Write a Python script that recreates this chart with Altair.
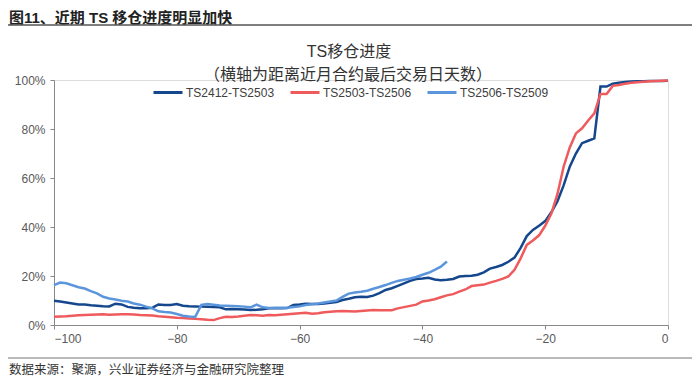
import altair as alt
import pandas as pd

series_names = ["TS2412-TS2503", "TS2503-TS2506", "TS2506-TS2509"]
colors = ["#15478c", "#ef5a5c", "#5b96dc"]

days_full = list(range(-100, 1))
days_short = list(range(-100, -35))

ts2412 = [9.9, 9.6, 9.2, 8.8, 8.4, 8.4, 8.1, 7.9, 7.7, 7.6,
          8.7, 8.4, 7.4, 7.0, 6.8, 6.8, 7.0, 8.4, 8.2, 8.2,
          8.6, 7.9, 7.7, 7.6, 7.5, 7.4, 7.3, 7.2, 6.4, 6.5,
          6.4, 6.3, 6.1, 6.2, 6.4, 6.8, 6.8, 6.8, 6.9, 8.2,
          8.4, 8.7, 8.6, 8.6, 8.8, 9.1, 9.4, 10.2, 10.7, 11.3,
          11.5, 11.4, 12.0, 13.0, 14.3, 15.0, 16.0, 17.0, 18.0, 18.8,
          19.0, 19.3, 18.6, 18.3, 18.5, 18.8, 19.8, 20.0, 20.1, 20.5,
          21.5, 23.0, 23.7, 24.5, 25.8, 27.5, 31.5, 36.3, 38.8, 40.5,
          42.4, 46.0, 50.5, 57.0, 64.6, 70.0, 74.2, 75.2, 76.2, 97.3,
          97.3, 98.5, 98.9, 99.2, 99.4, 99.5, 99.5, 99.6, 99.6, 99.6,
          99.7]

ts2503 = [3.4, 3.5, 3.6, 3.8, 4.0, 4.1, 4.2, 4.3, 4.4, 4.2,
          4.3, 4.4, 4.4, 4.3, 4.1, 4.0, 3.9, 3.6, 3.4, 3.2,
          3.0, 2.9, 2.7, 2.5, 2.3, 2.1, 2.0, 2.8, 3.4, 3.3,
          3.5, 3.8, 4.1, 4.0, 3.8, 4.1, 4.0, 4.2, 4.4, 4.6,
          4.8, 5.0, 4.6, 4.8, 5.2, 5.4, 5.6, 5.7, 5.6, 5.5,
          5.7, 5.9, 6.1, 6.0, 6.0, 6.0, 6.8, 7.3, 7.8, 8.3,
          9.6, 10.0, 10.5, 11.3, 12.1, 12.6, 13.6, 14.5, 15.9, 16.2,
          16.5, 17.3, 18.0, 18.8, 19.8, 22.5, 27.2, 32.7, 34.5, 36.6,
          40.5, 45.5, 53.5, 64.6, 72.5, 78.2, 80.3, 83.5, 86.4, 94.3,
          94.3, 97.6, 98.0, 98.5, 98.9, 99.1, 99.3, 99.5, 99.6, 99.7,
          99.8]

ts2506 = [16.3, 17.3, 17.0, 16.2, 15.4, 14.9, 13.8, 12.9, 11.5, 10.8,
          10.4, 9.9, 9.6, 8.8, 8.3, 7.5, 6.8, 5.6, 5.3, 5.1,
          4.5, 3.8, 3.5, 3.3, 8.2, 8.6, 8.3, 8.0, 7.9, 7.8,
          7.7, 7.5, 7.2, 8.3, 7.2, 6.9, 7.0, 7.0, 7.0, 7.3,
          7.6, 8.2, 8.5, 8.8, 9.2, 9.6, 10.0, 11.5, 12.8, 13.3,
          13.6, 14.0, 14.8, 15.5, 16.3, 17.2, 18.0, 18.5, 19.0, 19.6,
          20.5, 21.3, 22.5, 23.8, 25.9]

x_ticks = [-100, -80, -60, -40, -20, 0]
y_ticks = [0, 20, 40, 60, 80, 100]

header = "图11、近期 TS 移仓进度明显加快"
title_text = "TS移仓进度"
subtitle_text = "（横轴为距离近月合约最后交易日天数）"
source_text = "数据来源：聚源，兴业证券经济与金融研究院整理"

rows = []
for name, days, vals in [(series_names[0], days_full, ts2412),
                         (series_names[1], days_full, ts2503),
                         (series_names[2], days_short, ts2506)]:
    for d, v in zip(days, vals):
        rows.append({"series": name, "day": d, "value": v})
df = pd.DataFrame(rows)

FONT = "Liberation Sans, Noto Sans CJK SC"
W, H = 614, 245

lines = alt.Chart(df).mark_line(strokeWidth=2.5).encode(
    x=alt.X("day:Q", scale=alt.Scale(domain=[-100, 0], nice=False),
            axis=alt.Axis(values=x_ticks, title=None, grid=False, tickSize=4,
                          labelPadding=4, labelFontSize=12, labelColor="#595959",
                          domainColor="#888888", tickColor="#888888", labelFont=FONT)),
    y=alt.Y("value:Q", scale=alt.Scale(domain=[0, 100], nice=False),
            axis=alt.Axis(values=y_ticks, title=None, grid=False, tickSize=4,
                          labelPadding=5, labelFontSize=12, labelColor="#595959",
                          labelExpr="datum.value + '%'",
                          domainColor="#888888", tickColor="#888888", labelFont=FONT)),
    color=alt.Color("series:N",
                    scale=alt.Scale(domain=series_names, range=colors),
                    legend=alt.Legend(title=None, orient="none", legendX=98, legendY=-3.5,
                                      direction="horizontal", symbolType="stroke",
                                      symbolSize=841, symbolStrokeWidth=3,
                                      labelFontSize=12, labelColor="#404040",
                                      labelFont=FONT, labelOffset=2,
                                      columnPadding=9, padding=0, labelLimit=200)),
    order=alt.Order("day:Q"),
)

def txt(s, x, y, size, bold=False, align="left", color="#222222"):
    return alt.Chart(pd.DataFrame({"t": [s]})).mark_text(
        align=align, baseline="middle", fontSize=size,
        fontWeight="bold" if bold else "normal", font=FONT, color=color
    ).encode(text="t:N", x=alt.value(x), y=alt.value(y))

def hrule(y, x1, x2, color, w):
    return alt.Chart(pd.DataFrame({"a": [0]})).mark_rule(color=color, strokeWidth=w).encode(
        x=alt.value(x1), x2=alt.value(x2), y=alt.value(y))

chart = alt.layer(
    lines,
    txt(header, -45, -62.5, 15, bold=True),
    hrule(-55, -46, 638, "#555555", 1.5),
    txt(title_text, 295, -28.5, 16, color="#333333", align="center"),
    txt(subtitle_text, 294, -5, 16, color="#333333", align="center"),
    hrule(278, -46, 638, "#777777", 1.2),
    txt(source_text, -45, 290, 12.5, color="#333333"),
).properties(
    width=W, height=H,
    autosize=alt.AutoSizeParams(type="none"),
    padding={"left": 46, "top": 72, "right": 24, "bottom": 52},
).configure_view(stroke=None).configure(background="white")

chart.save("out.html", embed_options={"renderer": "svg", "actions": False})
